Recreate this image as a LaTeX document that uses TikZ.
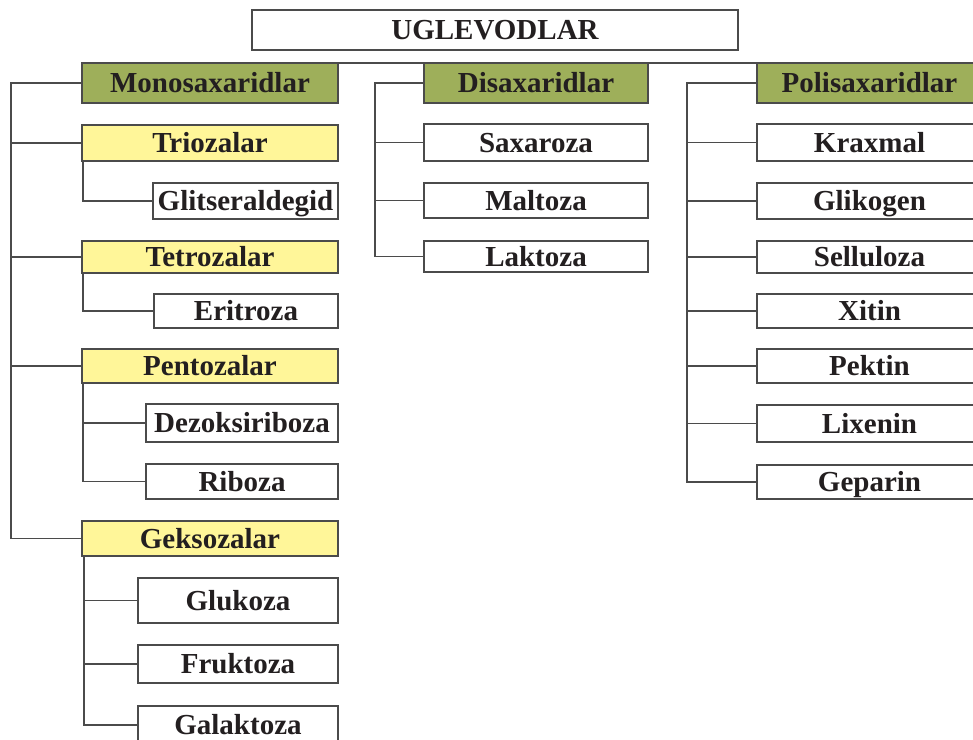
\documentclass[tikz,border=0pt]{standalone}
\usepackage{fontspec}
\setmainfont{Liberation Serif}
\definecolor{boxgreen}{RGB}{158,175,90}
\definecolor{boxyellow}{RGB}{255,246,153}
\definecolor{edgegray}{RGB}{75,75,75}
\definecolor{inkdark}{RGB}{35,31,32}
\begin{document}
\begin{tikzpicture}[x=1pt,y=-1pt,
  base/.style={draw=edgegray,line width=1.4pt,inner sep=0pt,outer sep=0pt,
    text=inkdark,font=\fontsize{29}{34}\selectfont\bfseries,
    text height=19.2pt,text depth=0pt,anchor=center},
  plainbox/.style={base,fill=white},
  groupbox/.style={base,fill=boxgreen},
  subbox/.style={base,fill=boxyellow},
  link/.style={draw=edgegray,line width=1.3pt}]
\useasboundingbox (0,0) rectangle (973,739);
\begin{scope}
\clip (0,0) rectangle (973,739);
% title
\node[plainbox,minimum width=486pt,minimum height=40pt] (root) at (495,30) {UGLEVODLAR};
% groups
\node[groupbox,minimum width=256pt,minimum height=40pt] (mono) at (210,83) {Monosaxaridlar};
\node[groupbox,minimum width=224pt,minimum height=40pt] (di) at (536,83) {Disaxaridlar};
\node[groupbox,minimum width=225pt,minimum height=40pt] (poli) at (869.5,83) {Polisaxaridlar};
% monosaccharide subgroups
\node[subbox,minimum width=256pt,minimum height=36pt] (trio) at (210,143) {Triozalar};
\node[plainbox,minimum width=185pt,minimum height=36pt] (glits) at (245.5,201) {Glitseraldegid};
\node[subbox,minimum width=256pt,minimum height=32pt] (tetro) at (210,257) {Tetrozalar};
\node[plainbox,minimum width=184pt,minimum height=34pt] (eritr) at (246,311) {Eritroza};
\node[subbox,minimum width=256pt,minimum height=34pt] (pento) at (210,366) {Pentozalar};
\node[plainbox,minimum width=192pt,minimum height=38pt] (dezok) at (242,423) {Dezoksiriboza};
\node[plainbox,minimum width=192pt,minimum height=35pt] (ribo) at (242,481.5) {Riboza};
\node[subbox,minimum width=256pt,minimum height=35pt] (geks) at (210,538.5) {Geksozalar};
\node[plainbox,minimum width=200pt,minimum height=45pt] (gluk) at (238,600.5) {Glukoza};
\node[plainbox,minimum width=200pt,minimum height=38pt] (fruk) at (238,664) {Fruktoza};
\node[plainbox,minimum width=200pt,minimum height=38pt] (galak) at (238,725) {Galaktoza};
% disaccharides
\node[plainbox,minimum width=224pt,minimum height=37pt] (saxa) at (536,142.5) {Saxaroza};
\node[plainbox,minimum width=224pt,minimum height=35pt] (malt) at (536,200.5) {Maltoza};
\node[plainbox,minimum width=224pt,minimum height=31pt] (lakt) at (536,256.5) {Laktoza};
% polysaccharides
\node[plainbox,minimum width=225pt,minimum height=37pt] (krax) at (869.5,142.5) {Kraxmal};
\node[plainbox,minimum width=225pt,minimum height=36pt] (glik) at (869.5,201) {Glikogen};
\node[plainbox,minimum width=225pt,minimum height=32pt] (sell) at (869.5,257) {Selluloza};
\node[plainbox,minimum width=225pt,minimum height=34pt] (xiti) at (869.5,311) {Xitin};
\node[plainbox,minimum width=225pt,minimum height=34pt] (pekt) at (869.5,366) {Pektin};
\node[plainbox,minimum width=225pt,minimum height=37pt] (lixe) at (869.5,423.5) {Lixenin};
\node[plainbox,minimum width=225pt,minimum height=34pt] (gepa) at (869.5,482) {Geparin};
% trunk positions
\coordinate (tL) at (11,0);
\coordinate (tD) at (375,0);
\coordinate (tP) at (687,0);
% top line
\draw[link] (mono.north east) -- (di.north west);
\draw[link] (di.north east) -- (poli.north west);
% monosaccharide tree
\draw[link] (mono.west) -- (mono.west -| tL) |- (geks.west);
\draw[link] (trio.west) -- (trio.west -| tL);
\draw[link] (tetro.west) -- (tetro.west -| tL);
\draw[link] (pento.west) -- (pento.west -| tL);
\draw[link] ([xshift=1pt]trio.south west) |- (glits.west);
\draw[link] ([xshift=1pt]tetro.south west) |- (eritr.west);
\draw[link] ([xshift=1pt]pento.south west) |- (ribo.west);
\draw[link] (dezok.west) -- (dezok.west -| pento.south west);
\draw[link] ([xshift=2pt]geks.south west) |- (galak.west);
\draw[link] (gluk.west) -- ([xshift=2pt]gluk.west -| geks.south west);
\draw[link] (fruk.west) -- ([xshift=2pt]fruk.west -| geks.south west);
% disaccharide tree
\draw[link] (di.west) -- (di.west -| tD) |- (lakt.west);
\draw[link] (saxa.west) -- (saxa.west -| tD);
\draw[link] (malt.west) -- (malt.west -| tD);
% polysaccharide tree
\draw[link] (poli.west) -- (poli.west -| tP) |- (gepa.west);
\draw[link] (krax.west) -- (krax.west -| tP);
\draw[link] (glik.west) -- (glik.west -| tP);
\draw[link] (sell.west) -- (sell.west -| tP);
\draw[link] (xiti.west) -- (xiti.west -| tP);
\draw[link] (pekt.west) -- (pekt.west -| tP);
\draw[link] (lixe.west) -- (lixe.west -| tP);
\end{scope}
\end{tikzpicture}
\end{document}
